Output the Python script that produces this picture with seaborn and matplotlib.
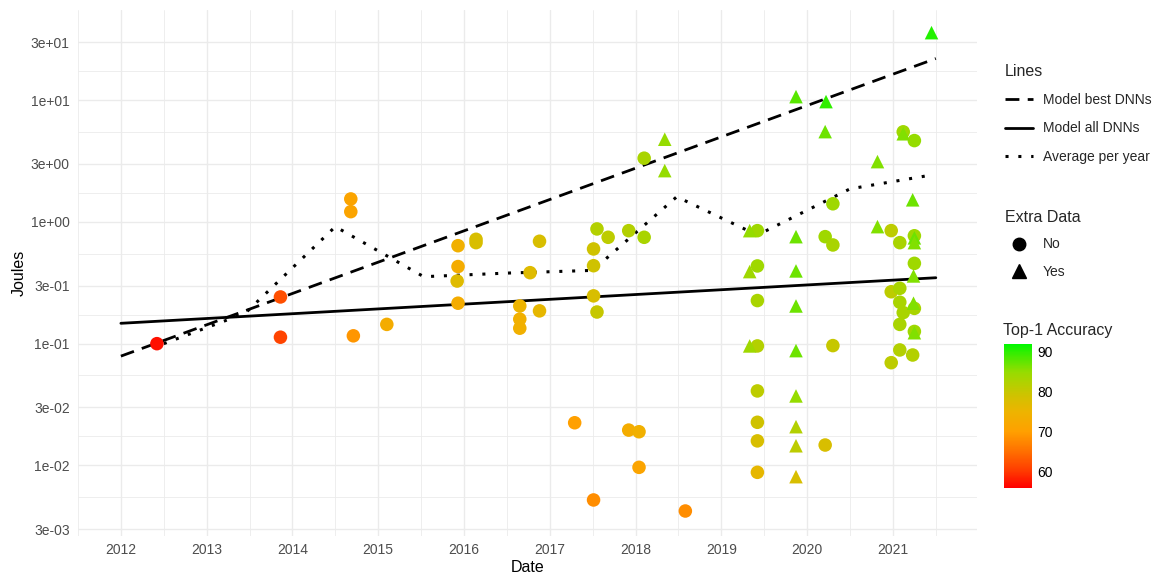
import numpy as np
import pandas as pd
import matplotlib
matplotlib.use("Agg")
import matplotlib.pyplot as plt
import seaborn as sns
from matplotlib.colors import LinearSegmentedColormap, Normalize
from matplotlib.lines import Line2D
from matplotlib.cm import ScalarMappable
import matplotlib.ticker as mticker

# ---------------- data ----------------
# models without extra data (circles)
dates_no = [2012.42, 2013.86, 2013.86, 2014.68, 2014.68, 2014.71, 2015.10, 2015.93, 2015.93, 2015.92,
            2015.93, 2016.14, 2016.14, 2016.88, 2016.77, 2016.65, 2016.65, 2016.65, 2016.88, 2017.55,
            2017.68, 2017.51, 2017.51, 2017.51, 2017.55, 2017.92, 2018.10, 2018.10, 2017.29, 2017.92,
            2018.04, 2018.04, 2017.51, 2018.58, 2019.42, 2019.42, 2019.42, 2019.42, 2019.42, 2019.42,
            2019.42, 2019.42, 2020.21, 2020.30, 2020.30, 2020.30, 2020.21, 2021.12, 2021.25, 2020.98,
            2021.08, 2021.25, 2021.25, 2020.98, 2021.08, 2021.08, 2021.25, 2021.12, 2021.08, 2021.25,
            2021.08, 2021.23, 2020.98]
joules_no = [0.100, 0.242, 0.113, 1.545, 1.215, 0.116, 0.144, 0.638, 0.430, 0.327,
             0.215, 0.720, 0.676, 0.694, 0.383, 0.204, 0.159, 0.134, 0.186, 0.876,
             0.748, 0.600, 0.437, 0.247, 0.182, 0.848, 0.748, 3.34, 0.0224, 0.0195,
             0.0189, 0.00964, 0.0052, 0.00422, 0.848, 0.435, 0.226, 0.0958, 0.0409, 0.0226,
             0.0159, 0.00877, 0.757, 0.647, 1.41, 0.0964, 0.0147, 5.5, 4.66, 0.849,
             0.676, 0.77, 0.457, 0.267, 0.285, 0.219, 0.195, 0.180, 0.144, 0.126,
             0.0888, 0.0807, 0.0698]
acc_no = [57, 62, 61, 71, 71, 69, 73, 74, 73, 77,
          73, 78, 78, 78, 77, 75, 74, 74, 76, 82,
          81, 79, 79, 78, 80, 82, 83, 83, 70, 73,
          74, 71, 68, 68, 84, 84, 83, 82, 81, 79,
          78, 76, 84, 83, 84, 80, 78, 84, 85, 81,
          83, 84, 84, 81, 83, 83, 83, 83, 83, 84,
          82, 82, 81]

# models with extra data (triangles)
dates_yes = [2018.34, 2018.34, 2019.87, 2020.22, 2020.21, 2021.45, 2020.82, 2021.23, 2020.82, 2021.25,
             2021.25, 2021.24, 2021.24, 2021.25, 2019.33, 2019.87, 2019.33, 2019.87, 2019.87, 2019.33,
             2019.87, 2019.87, 2019.87, 2019.87, 2019.87, 2021.12]
joules_yes = [4.78, 2.64, 10.7, 9.74, 5.52, 35.9, 3.13, 1.52, 0.915, 0.74,
              0.676, 0.36, 0.215, 0.123, 0.848, 0.757, 0.391, 0.396, 0.204, 0.0958,
              0.0877, 0.0372, 0.0208, 0.0145, 0.00808, 5.3]
acc_yes = [85, 85, 88, 90, 87, 90.5, 86, 87, 86, 87,
           86, 86, 86, 86, 85, 87, 84, 87, 87, 84,
           87, 85, 82, 81, 78, 86]

# model lines
line_years = [2012.0, 2021.5]
best_dnns = [0.079, 22.0]
all_dnns = [0.147, 0.348]

# average per year
avg_years = [2012.5, 2013.45, 2014.5, 2015.53, 2016.5, 2017.5, 2018.48, 2019.42, 2020.5, 2021.45]
avg_joules = [0.100, 0.178, 0.915, 0.355, 0.38, 0.40, 1.61, 0.78, 1.87, 2.43]

x_ticks = list(range(2012, 2022))
y_ticks = [3e-3, 1e-2, 3e-2, 1e-1, 3e-1, 1.0, 3.0, 10.0, 30.0]
y_tick_labels = ["3e-03", "1e-02", "3e-02", "1e-01", "3e-01", "1e+00", "3e+00", "1e+01", "3e+01"]
acc_ticks = [60, 70, 80, 90]

# ---------------- style ----------------
sns.set_theme(style="whitegrid")
plt.rcParams["font.family"] = ["Liberation Sans", "DejaVu Sans"]

acc_min, acc_max = 55.8, 92.0
stops = [(55.8, "#FF0000"), (60, "#FF3A00"), (65, "#FF7000"), (70, "#FFA000"),
         (75, "#EDB400"), (79, "#D0C200"), (82, "#B4D000"), (85, "#96DC00"),
         (90, "#30EE00"), (92, "#00F800")]
cmap = LinearSegmentedColormap.from_list(
    "acc", [((v - acc_min) / (acc_max - acc_min), c) for v, c in stops])
norm = Normalize(acc_min, acc_max)

df = pd.DataFrame({
    "date": dates_no + dates_yes,
    "joules": joules_no + joules_yes,
    "extra": ["No"] * len(dates_no) + ["Yes"] * len(dates_yes),
    "acc": acc_no + acc_yes,
})

W, H = 1157, 578
fig = plt.figure(figsize=(W / 100, H / 100), dpi=100)
ax = fig.add_axes([78 / W, 1 - 536 / H, (977 - 78) / W, (536 - 10) / H])
ax.set_facecolor("white")

ax.set_yscale("log")
ax.set_xlim(2011.52, 2021.98)
ax.set_ylim(0.00263, 55.1)

# grid
grid_c = "#EBEBEB"
ax.grid(False)
ax.set_xticks(x_ticks)
ax.set_xticks([x + 0.5 for x in x_ticks[:-1]] + [2011.5, 2021.5], minor=True)
ax.yaxis.set_major_locator(mticker.FixedLocator(y_ticks))
ax.yaxis.set_major_formatter(mticker.FixedFormatter(y_tick_labels))
ly = np.log10(y_ticks)
minor_y = list(10 ** ((ly[:-1] + ly[1:]) / 2))
ax.yaxis.set_minor_locator(mticker.FixedLocator(minor_y))
ax.yaxis.set_minor_formatter(mticker.NullFormatter())
ax.grid(True, which="major", color=grid_c, lw=1.0, zorder=0)
ax.grid(True, which="minor", color=grid_c, lw=0.6, zorder=0)
ax.set_axisbelow(True)
for s in ax.spines.values():
    s.set_visible(False)
ax.tick_params(axis="both", which="both", length=0, labelsize=10, labelcolor="#4D4D4D")
ax.tick_params(axis="x", pad=5)
ax.tick_params(axis="y", pad=6)

# lines
sns.lineplot(x=line_years, y=best_dnns, ax=ax, color="black", lw=2.0,
             linestyle=(0, (5, 3)), zorder=3, legend=False)
sns.lineplot(x=line_years, y=all_dnns, ax=ax, color="black", lw=2.0, zorder=3, legend=False)
sns.lineplot(x=avg_years, y=avg_joules, ax=ax, color="black", lw=2.2,
             linestyle=(0, (1, 3.2)), zorder=3, legend=False, sort=False)

# points
sns.scatterplot(data=df, x="date", y="joules", hue="acc", palette=cmap, hue_norm=norm,
                style="extra", markers={"No": "o", "Yes": "^"}, s=95, linewidth=0,
                legend=False, ax=ax, zorder=4)

ax.set_xlabel("Date", fontsize=11.5, labelpad=2, color="black")
ax.set_ylabel("Joules", fontsize=11.5, labelpad=3, color="black")

# legends
h_lines = [Line2D([], [], color="black", lw=2.0, linestyle=(0, (5, 3))),
           Line2D([], [], color="black", lw=2.0),
           Line2D([], [], color="black", lw=2.2, linestyle=(0, (1, 3.2)))]
leg1 = fig.legend(h_lines, ["Model best DNNs", "Model all DNNs", "Average per year"],
                  title="Lines", loc="upper left", bbox_to_anchor=(998 / W, 1 - 57 / H),
                  frameon=False, fontsize=10, title_fontsize=11.5, alignment="left",
                  handlelength=2.0, handletextpad=0.75, labelspacing=1.05, borderpad=0)
leg1._legend_box.sep = 10
h_shapes = [Line2D([], [], color="black", marker="o", linestyle="none", markersize=9),
            Line2D([], [], color="black", marker="^", linestyle="none", markersize=9.5)]
leg2 = fig.legend(h_shapes, ["No", "Yes"], title="Extra Data", loc="upper left",
                  bbox_to_anchor=(998 / W, 1 - 203 / H), frameon=False, fontsize=10,
                  title_fontsize=11.5, alignment="left", handlelength=2.0,
                  handletextpad=0.75, labelspacing=0.95, borderpad=0)
leg2._legend_box.sep = 9

fig.text(1003 / W, 1 - 330 / H, "Top-1 Accuracy", fontsize=11.5, va="center", ha="left")
cax = fig.add_axes([1004 / W, 1 - 488 / H, 28 / W, 144 / H])
sm = ScalarMappable(norm=norm, cmap=cmap)
cb = fig.colorbar(sm, cax=cax, ticks=acc_ticks)
cb.outline.set_visible(False)
cb.ax.tick_params(length=5, width=0.8, color="white", direction="in", labelsize=10,
                  labelcolor="black", pad=4)

fig.savefig("out.png", dpi=100, facecolor="white")
